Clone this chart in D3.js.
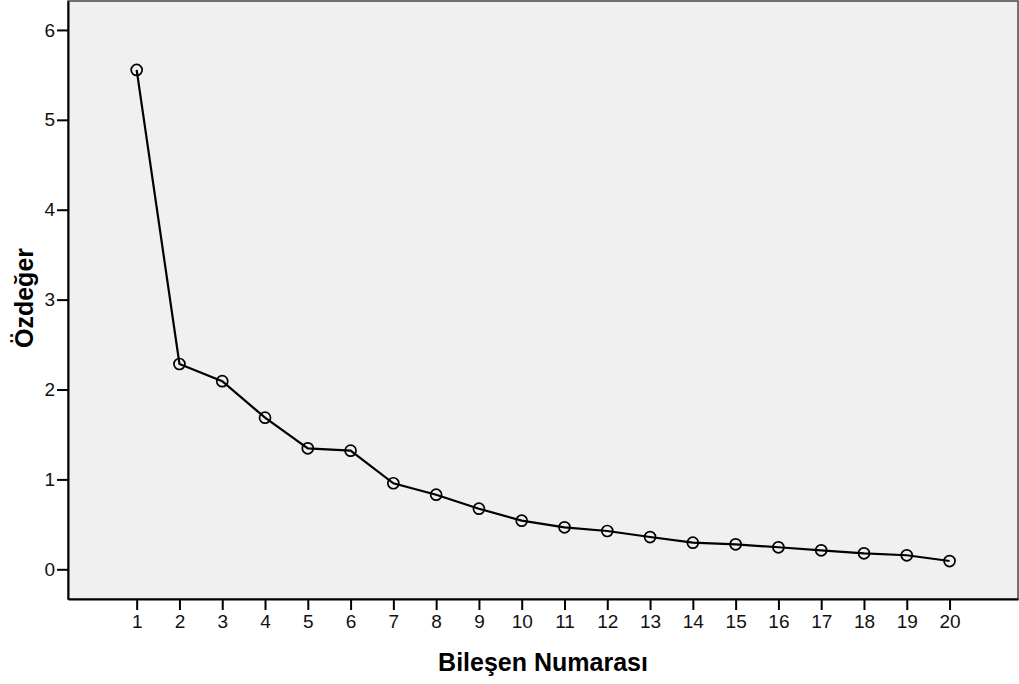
<!DOCTYPE html>
<html><head><meta charset="utf-8">
<script src="https://cdn.jsdelivr.net/npm/d3@7"></script>
<style>
html,body{margin:0;padding:0;background:#fff;}
svg{display:block;font-family:"Liberation Sans",Arial,sans-serif;}
.tick text{font-size:19px;font-family:"Liberation Sans",Arial,sans-serif;fill:#111;}
</style></head>
<body>
<svg id="chart" width="1019" height="684"></svg>
<script>
const components = [1,2,3,4,5,6,7,8,9,10,11,12,13,14,15,16,17,18,19,20];
const eigenvalues = [5.555,2.284,2.093,1.687,1.346,1.320,0.957,0.830,0.674,0.541,0.467,0.426,0.359,0.296,0.278,0.245,0.211,0.178,0.156,0.092];
const yTicks = [0,1,2,3,4,5,6];
const xTitle = "Bileşen Numarası";
const yTitle = "Özdeğer";

const svg = d3.select("#chart");
const L = 68, R = 1018, T = 1, B = 599;
const x = d3.scaleLinear().domain([-0.605, 21.6]).range([L, R]);
const y = d3.scaleLinear().domain([-0.3304, 6.322]).range([B, T]);

svg.append("rect").attr("x", L).attr("y", T).attr("width", R - L).attr("height", B - T)
  .attr("fill", "#f0f0f0").attr("stroke", "#444").attr("stroke-width", 1.5);

const xAxis = svg.append("g").attr("transform", `translate(0,${B})`)
  .call(d3.axisBottom(x).tickValues(components).tickFormat(d3.format("d")).tickSize(11).tickPadding(5).tickSizeOuter(0));
xAxis.attr("font-size", null);
xAxis.select(".domain").attr("stroke", "#000").attr("stroke-width", 2);
xAxis.selectAll(".tick line").attr("stroke", "#000").attr("stroke-width", 2);

const yAxis = svg.append("g").attr("transform", `translate(${L},0)`)
  .call(d3.axisLeft(y).tickValues(yTicks).tickFormat(d3.format("d")).tickSize(11).tickPadding(2).tickSizeOuter(0));
yAxis.attr("font-size", null);
yAxis.select(".domain").attr("stroke", "#000").attr("stroke-width", 2);
yAxis.selectAll(".tick line").attr("stroke", "#000").attr("stroke-width", 2);

const data = components.map((c, i) => ({c, v: eigenvalues[i]}));
svg.append("path").datum(data)
  .attr("fill", "none").attr("stroke", "#000").attr("stroke-width", 2.2)
  .attr("d", d3.line().x(d => x(d.c)).y(d => y(d.v)));

svg.append("g").selectAll("circle").data(data).join("circle")
  .attr("cx", d => x(d.c)).attr("cy", d => y(d.v)).attr("r", 5.5)
  .attr("fill", "none").attr("stroke", "#000").attr("stroke-width", 1.7);

svg.append("text").attr("x", (L + R) / 2).attr("y", 671)
  .attr("text-anchor", "middle").attr("font-size", 25).attr("font-weight", "bold")
  .attr("fill", "#000").text(xTitle);

svg.append("text").attr("transform", `translate(33,298) rotate(-90)`)
  .attr("text-anchor", "middle").attr("font-size", 25).attr("font-weight", "bold")
  .attr("fill", "#000").text(yTitle);
</script>
</body></html>
